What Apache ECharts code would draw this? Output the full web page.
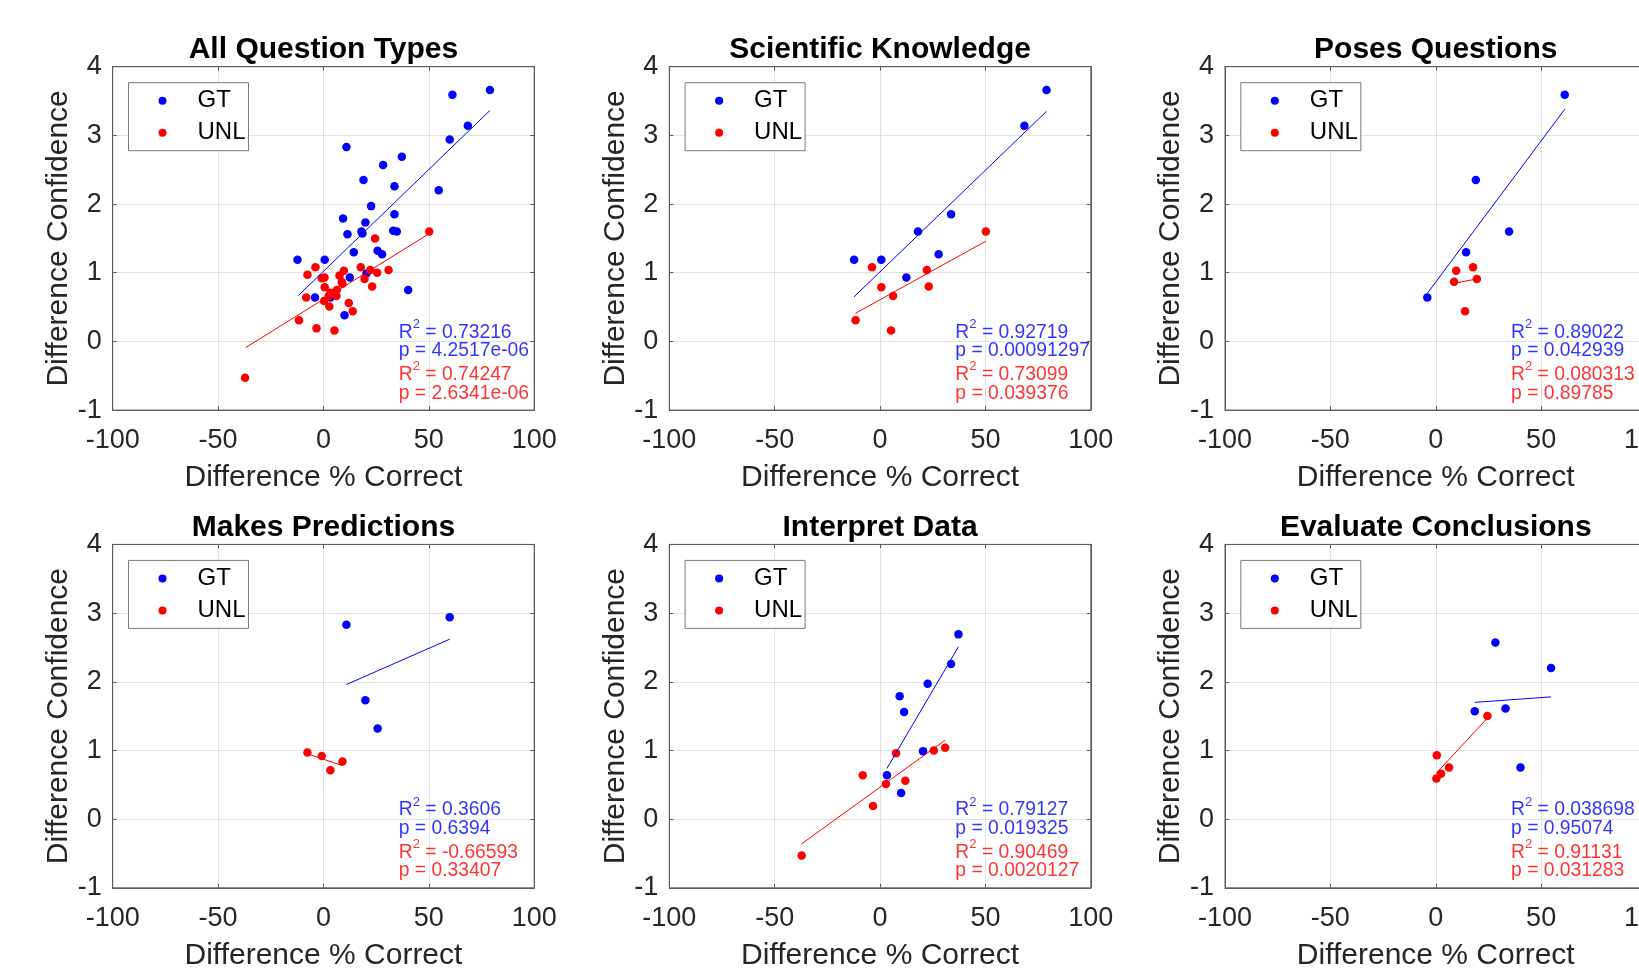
<!DOCTYPE html>
<html>
<head>
<meta charset="utf-8">
<title>Difference Confidence vs Difference % Correct</title>
<script src="https://cdn.jsdelivr.net/npm/echarts@6.0.0/dist/echarts.min.js"></script>
<style>
    html, body { margin: 0; padding: 0; background: #fff; }
    #main { width: 1639px; height: 970px; }
</style>
</head>
<body>
<div id="main"></div>
<script>
// axis ticks
var xTicks = [-100, -50, 0, 50, 100];
var yTicks = [-1, 0, 1, 2, 3, 4];

var panelTitles = ['All Question Types', 'Scientific Knowledge', 'Poses Questions',
    'Makes Predictions', 'Interpret Data', 'Evaluate Conclusions'];

// [difference % correct, difference confidence]
var sciGT = [[79.0, 3.66], [68.5, 3.14], [33.7, 1.85], [18.0, 1.60], [27.8, 1.27], [-12.3, 1.19], [0.6, 1.19], [12.5, 0.93]];
var sciUNL = [[50.2, 1.60], [-3.8, 1.08], [22.2, 1.04], [0.6, 0.79], [23.1, 0.80], [6.2, 0.66], [-11.6, 0.31], [5.2, 0.16]];
var posesGT = [[61.2, 3.59], [19.0, 2.35], [34.8, 1.60], [14.4, 1.30], [-4.0, 0.64]];
var posesUNL = [[17.7, 1.08], [9.7, 1.03], [19.5, 0.91], [8.7, 0.87], [13.9, 0.44]];
var predGT = [[59.9, 2.94], [10.9, 2.83], [19.9, 1.73], [25.7, 1.32]];
var predUNL = [[-7.6, 0.97], [-0.8, 0.92], [9.0, 0.84], [3.3, 0.71]];
var interpGT = [[37.2, 2.69], [33.7, 2.26], [22.6, 1.97], [9.3, 1.79], [11.4, 1.56], [20.4, 0.99], [3.3, 0.64], [10.0, 0.38]];
var interpUNL = [[7.6, 0.96], [25.5, 1.00], [30.9, 1.04], [-8.2, 0.64], [2.8, 0.51], [12.0, 0.56], [-3.3, 0.19], [-37.2, -0.53]];
var evalGT = [[28.3, 2.57], [54.7, 2.20], [33.1, 1.61], [18.5, 1.57], [40.2, 0.75]];
var evalUNL = [[24.5, 1.50], [0.5, 0.93], [6.3, 0.75], [2.5, 0.66], [0.3, 0.59]];

// the first panel pools every question type
var allGT = [].concat(sciGT, posesGT, predGT, interpGT, evalGT);
var allUNL = [].concat(sciUNL, posesUNL, predUNL, interpUNL, evalUNL);

var panelGT = [allGT, sciGT, posesGT, predGT, interpGT, evalGT];
var panelUNL = [allUNL, sciUNL, posesUNL, predUNL, interpUNL, evalUNL];

// regression line end points
var fitGT = [
    [[-12.0, 0.665], [78.9, 3.36]],
    [[-12.3, 0.65], [79.0, 3.35]],
    [[-4.0, 0.70], [61.2, 3.38]],
    [[10.9, 1.96], [59.9, 2.62]],
    [[3.3, 0.74], [37.2, 2.51]],
    [[18.5, 1.70], [54.7, 1.78]]
];
var fitUNL = [
    [[-36.9, -0.09], [50.2, 1.57]],
    [[-11.6, 0.41], [50.2, 1.46]],
    [[8.7, 0.845], [19.5, 0.91]],
    [[-7.6, 0.95], [9.0, 0.78]],
    [[-37.2, -0.36], [30.9, 1.15]],
    [[0.3, 0.67], [24.5, 1.47]]
];

var r2GT = ['0.73216', '0.92719', '0.89022', '0.3606', '0.79127', '0.038698'];
var pGT = ['4.2517e-06', '0.00091297', '0.042939', '0.6394', '0.019325', '0.95074'];
var r2UNL = ['0.74247', '0.73099', '0.080313', '-0.66593', '0.90469', '0.91131'];
var pUNL = ['2.6341e-06', '0.039376', '0.89785', '0.33407', '0.0020127', '0.031283'];

var chartView = function () {
    // layout
    var gridLefts = [112.7, 669.3, 1225];
    var gridTops = [66.7, 544.4];
    var gridWidth = 421.5, gridHeight = 343.4;
    var statsAnchor = [35.5, -0.275];

    var fontFamily = '"Liberation Sans", Arial, Helvetica, sans-serif';
    var axisColor = '#5c5c5c';
    var textColor = '#262626';
    var blue = '#0000ff', red = '#ff0000';

    function statsText(i) {
        return '{gm|R}{gs|2}{gm| = ' + r2GT[i] + '}\n' +
            '{gm|p = ' + pGT[i] + '}\n' +
            '{rm|R}{rs|2}{rm| = ' + r2UNL[i] + '}\n' +
            '{rm|p = ' + pUNL[i] + '}';
    }

    var grids = [], titles = [], legends = [], xAxes = [], topAxes = [], yAxes = [], rightAxes = [], series = [];

    for (var i = 0; i < 6; i++) {
        var gLeft = gridLefts[i % 3];
        var gTop = gridTops[Math.floor(i / 3)];

        grids.push({
            left: gLeft, top: gTop, width: gridWidth, height: gridHeight,
            outerBoundsMode: 'none',
            show: true, borderColor: axisColor, borderWidth: 1, backgroundColor: '#fff'
        });

        titles.push({
            text: panelTitles[i],
            left: gLeft + gridWidth / 2, top: gTop - 16.8,
            textAlign: 'center', textVerticalAlign: 'middle', padding: 0,
            textStyle: {fontSize: 30, fontWeight: 'bold', color: '#000', fontFamily: fontFamily}
        });

        legends.push({
            left: gLeft + 15.8, top: gTop + 16,
            orient: 'vertical',
            data: ['GT', 'UNL'],
            icon: 'circle',
            itemWidth: 60, itemHeight: 8, itemGap: 8,
            padding: [6, 3, 6, 30],
            borderColor: '#7a7a7a', borderWidth: 1, backgroundColor: '#fff',
            selectedMode: false,
            textStyle: {fontSize: 24, color: '#000', fontFamily: fontFamily}
        });

        xAxes.push({
            gridIndex: i, type: 'value', position: 'bottom',
            min: xTicks[0], max: xTicks[xTicks.length - 1], interval: xTicks[1] - xTicks[0],
            name: 'Difference % Correct', nameLocation: 'middle', nameGap: 53,
            nameTextStyle: {fontSize: 30, color: textColor, fontFamily: fontFamily},
            axisLine: {show: true, onZero: false, lineStyle: {color: axisColor, width: 1}},
            axisTick: {show: true, inside: true, length: 4, lineStyle: {color: axisColor}},
            axisLabel: {fontSize: 27, color: textColor, margin: 17, fontFamily: fontFamily},
            splitLine: {show: true, lineStyle: {color: '#e2e2e2', width: 1}}
        });
        topAxes.push({
            gridIndex: i, type: 'value', position: 'top',
            min: xTicks[0], max: xTicks[xTicks.length - 1], interval: xTicks[1] - xTicks[0],
            axisLine: {show: true, onZero: false, lineStyle: {color: axisColor, width: 1}},
            axisTick: {show: true, inside: true, length: 4, lineStyle: {color: axisColor}},
            axisLabel: {show: false},
            splitLine: {show: false}
        });

        yAxes.push({
            gridIndex: i, type: 'value', position: 'left',
            min: yTicks[0], max: yTicks[yTicks.length - 1], interval: yTicks[1] - yTicks[0],
            name: 'Difference Confidence', nameLocation: 'middle', nameGap: 39,
            nameTextStyle: {fontSize: 30, color: textColor, fontFamily: fontFamily},
            axisLine: {show: true, onZero: false, lineStyle: {color: axisColor, width: 1}},
            axisTick: {show: true, inside: true, length: 4, lineStyle: {color: axisColor}},
            axisLabel: {fontSize: 27, color: textColor, margin: 11, fontFamily: fontFamily},
            splitLine: {show: true, lineStyle: {color: '#e2e2e2', width: 1}}
        });
        rightAxes.push({
            gridIndex: i, type: 'value', position: 'right',
            min: yTicks[0], max: yTicks[yTicks.length - 1], interval: yTicks[1] - yTicks[0],
            axisLine: {show: true, onZero: false, lineStyle: {color: axisColor, width: 1}},
            axisTick: {show: true, inside: true, length: 4, lineStyle: {color: axisColor}},
            axisLabel: {show: false},
            splitLine: {show: false}
        });

        series.push({
            name: 'GT', type: 'scatter', xAxisIndex: i, yAxisIndex: i,
            data: panelGT[i], symbolSize: 8.5,
            itemStyle: {color: blue, opacity: 1}
        });
        series.push({
            name: 'UNL', type: 'scatter', xAxisIndex: i, yAxisIndex: i,
            data: panelUNL[i], symbolSize: 8.5,
            itemStyle: {color: red, opacity: 1}
        });
        series.push({
            name: 'GT fit', type: 'line', xAxisIndex: i, yAxisIndex: i,
            data: fitGT[i], symbol: 'none', silent: true,
            lineStyle: {color: blue, width: 1}
        });
        series.push({
            name: 'UNL fit', type: 'line', xAxisIndex: i, yAxisIndex: i,
            data: fitUNL[i], symbol: 'none', silent: true,
            lineStyle: {color: red, width: 1}
        });
        series.push({
            name: 'stats', type: 'scatter', xAxisIndex: i, yAxisIndex: i,
            data: [statsAnchor], symbolSize: 1, silent: true,
            itemStyle: {color: 'rgba(0,0,0,0)'},
            label: {
                show: true, position: 'right', distance: 0,
                formatter: (function (k) { return function () { return statsText(k); }; })(i),
                fontFamily: fontFamily,
                rich: {
                    gm: {color: blue, fontSize: 19.3, lineHeight: 18.4, verticalAlign: 'bottom', fontFamily: fontFamily},
                    gs: {color: blue, fontSize: 13, lineHeight: 24, verticalAlign: 'top', fontFamily: fontFamily},
                    rm: {color: red, fontSize: 19.3, lineHeight: 18.4, verticalAlign: 'bottom', fontFamily: fontFamily},
                    rs: {color: red, fontSize: 13, lineHeight: 24, verticalAlign: 'top', fontFamily: fontFamily}
                }
            }
        });
    }

    var chart = echarts.init(document.getElementById('main'), null, {renderer: 'canvas'});
    chart.setOption({
        animation: false,
        backgroundColor: '#fff',
        title: titles,
        legend: legends,
        grid: grids,
        xAxis: xAxes.concat(topAxes),
        yAxis: yAxes.concat(rightAxes),
        series: series
    });
    return chart;
}();
</script>
</body>
</html>
